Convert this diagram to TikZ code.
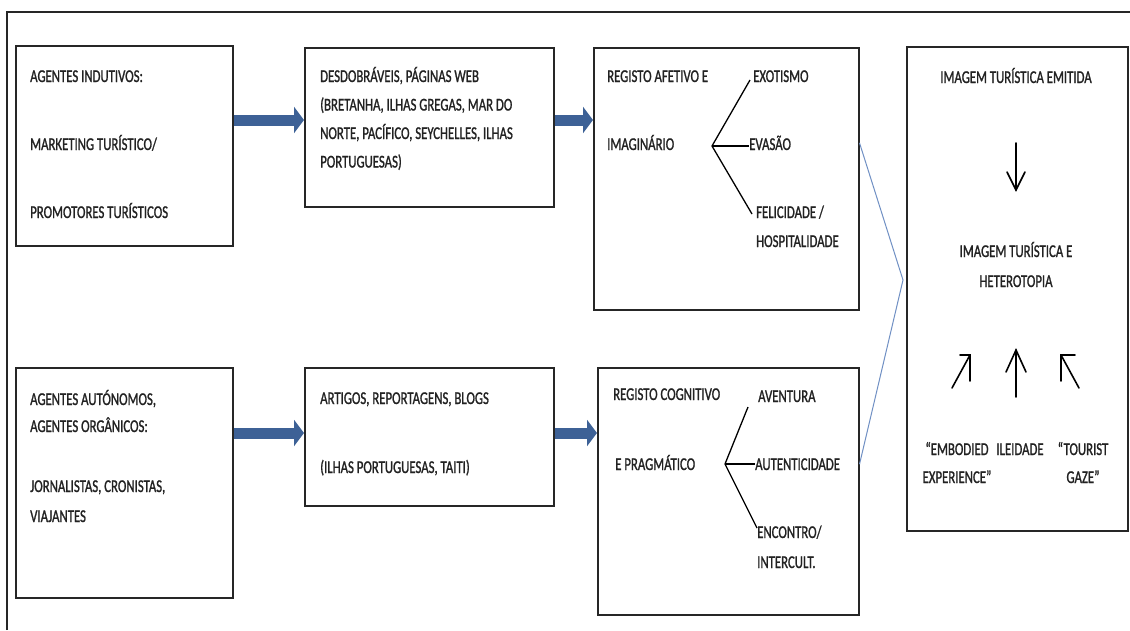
\documentclass[tikz,border=0pt]{standalone}
\usepackage{fontspec}
\setmainfont{Carlito}[FakeStretch=0.71,FakeBold=1.1]
\usetikzlibrary{arrows.meta,calc}
\definecolor{arrowblue}{HTML}{3D6196}
\definecolor{thinblue}{HTML}{7090C4}
\definecolor{boxline}{HTML}{262626}
\definecolor{textgray}{HTML}{222222}
\begin{document}
\begin{tikzpicture}[x=1pt,y=-1pt,
  box/.style={draw=boxline, line width=1.5pt, inner sep=0pt, anchor=north west},
  txt/.style={anchor=base west, inner sep=0pt, text=textgray, font=\fontsize{18}{20}\selectfont},
  ctxt/.style={txt, anchor=base},
  bigarrow/.style={draw=arrowblue, line width=11pt, -{Triangle[length=10pt,width=26pt]}},
  forkline/.style={draw=black, line width=1.3pt},
  thinlink/.style={draw=thinblue, line width=1pt},
  glyph/.style={draw=black, line width=1.6pt, line cap=round, line join=miter},
  frame/.style={draw=boxline, line width=1.5pt}]
\useasboundingbox (0,0) rectangle (1130,630);
\fill[white] (0,0) rectangle (1130,630);
\draw[frame] (7,630) -- (7,12) -- (1130,12);

% boxes
\node[box, minimum width=217pt, minimum height=200pt] (t1) at (15,45) {};
\node[box, minimum width=249pt, minimum height=159pt] (t2) at (304,47) {};
\node[box, minimum width=265pt, minimum height=262pt] (t3) at (593,47) {};
\node[box, minimum width=221pt, minimum height=484pt] (r) at (906,46) {};
\node[box, minimum width=217pt, minimum height=230pt] (b1) at (15,367) {};
\node[box, minimum width=249pt, minimum height=138pt] (b2) at (304,367) {};
\node[box, minimum width=261pt, minimum height=247pt] (b3) at (597,367) {};

% box 1 text
\node[txt] (t1a) at (30,82) {AGENTES INDUTIVOS:};
\node[txt] (t1b) at (30,150) {MARKETING TURÍSTICO/};
\node[txt] (t1c) at (30,218) {PROMOTORES TURÍSTICOS};
% box 2 text
\node[txt] (t2a) at (320,82) {DESDOBRÁVEIS, PÁGINAS WEB};
\node[txt] (t2b) at (320,110.5) {(BRETANHA, ILHAS GREGAS, MAR DO};
\node[txt] (t2c) at (320,139) {NORTE, PACÍFICO, SEYCHELLES, ILHAS};
\node[txt] (t2d) at (320,167.5) {PORTUGUESAS)};
% box 3 text
\node[txt] (t3a) at (607,82) {REGISTO AFETIVO E};
\node[txt] (t3b) at (607,150) {IMAGINÁRIO};
\node[txt] (exo) at (753,82) {EXOTISMO};
\node[txt] (eva) at (749,150) {EVASÃO};
\node[txt] (fel) at (756,218) {FELICIDADE /};
\node[txt] (hos) at (756,247) {HOSPITALIDADE};
\coordinate (fork1) at (712,146);
\coordinate (f1up) at (750,80);
\coordinate (f1lo) at (752,214);
\draw[forkline] (f1up) -- (fork1) -- (f1lo);
\draw[forkline] (fork1) -- (eva.west |- fork1);

% bottom box 1 text
\node[txt] (b1a) at (30,405) {AGENTES AUTÓNOMOS,};
\node[txt] (b1b) at (30,432) {AGENTES ORGÂNICOS:};
\node[txt] (b1c) at (30,492) {JORNALISTAS, CRONISTAS,};
\node[txt] (b1d) at (30,522) {VIAJANTES};
% bottom box 2 text
\node[txt] (b2a) at (320,404) {ARTIGOS, REPORTAGENS, BLOGS};
\node[txt] (b2b) at (320,473) {(ILHAS PORTUGUESAS, TAITI)};
% bottom box 3 text
\node[txt] (b3a) at (613,400) {REGISTO COGNITIVO};
\node[txt] (b3b) at (615,470) {E PRAGMÁTICO};
\node[txt] (ave) at (758,402) {AVENTURA};
\node[txt] (aut) at (755,470) {AUTENTICIDADE};
\node[txt] (enc) at (757,538) {ENCONTRO/};
\node[txt] (int) at (757,568) {INTERCULT.};
\coordinate (fork2) at (725,464);
\coordinate (f2up) at (748,407);
\coordinate (f2lo) at (757,528);
\draw[forkline] (f2up) -- (fork2) -- (f2lo);
\draw[forkline] (fork2) -- (aut.west |- fork2);

% right box text
\node[ctxt] (ra) at (1016,83) {IMAGEM TURÍSTICA EMITIDA};
\node[ctxt] (rb) at (1016,257) {IMAGEM TURÍSTICA E};
\node[ctxt] (rc) at (1016,287) {HETEROTOPIA};
\node[ctxt] (emb1) at (957,455) {“EMBODIED};
\node[ctxt] (emb2) at (957,483) {EXPERIENCE”};
\node[ctxt] (ile) at (1020,455) {ILEIDADE};
\node[ctxt] (tou1) at (1083,455) {“TOURIST};
\node[ctxt] (tou2) at (1083,483) {GAZE”};

% glyph arrows in right box
\draw[glyph] (1016,143) -- (1016,190);
\draw[glyph] (1007,172) -- (1016,190) -- (1025,172);
\draw[glyph] (952,388) -- (970,355);
\draw[glyph] (960,355) -- (970,355) -- (970,381);
\draw[glyph] (1016,397) -- (1016,350);
\draw[glyph] (1006,372) -- (1016,350) -- (1026,372);
\draw[glyph] (1079,388) -- (1061,355);
\draw[glyph] (1075,355) -- (1061,355) -- (1061,381);

% thick flow arrows
\draw[bigarrow] (t1.east |- 0,120) -- (t2.west |- 0,120);
\draw[bigarrow] (t2.east |- 0,120) -- (t3.west |- 0,120);
\draw[bigarrow] (b1.east |- 0,433) -- (b2.west |- 0,433);
\draw[bigarrow] (b2.east |- 0,433) -- (b3.west |- 0,433);

% thin links to right box
\coordinate (apex) at (903,280);
\draw[thinlink] (t3.east |- eva) -- (apex) -- (b3.east |- aut);
\end{tikzpicture}
\end{document}
